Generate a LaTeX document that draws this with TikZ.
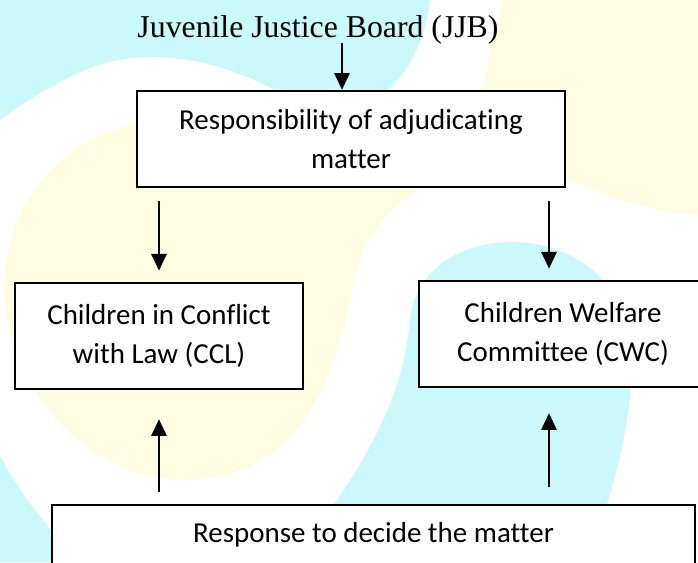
\documentclass[tikz,border=0pt]{standalone}
\usepackage{fontspec}
\setmainfont{Carlito}[Ligatures=NoCommon]
\newfontfamily\titlefont{Liberation Serif}
\usepackage{xcolor}
\usetikzlibrary{arrows.meta}
\definecolor{bgcyan}{RGB}{202,248,251}
\definecolor{bgyellow}{RGB}{255,253,225}

\tikzset{
    box/.style={draw, line width=1.6pt, fill=white, align=center, inner sep=0pt,
        font=\fontsize{20.6}{27.5}\selectfont},
    arr/.style={line width=1.7pt, -{Triangle[length=0.42cm,width=0.38cm]}}
}

\begin{document}
\begin{tikzpicture}[x=0.025cm, y=-0.025cm]
    \useasboundingbox (0,0) rectangle (698,562);
    \clip (0,0) rectangle (698,562);
    % background swirls
    \fill [bgcyan] (0,0) -- (430,0) .. controls (425,45) and (405,80) .. (375,100)
        -- (290,100) .. controls (230,60) and (150,45) .. (90,68)
        .. controls (50,85) and (20,105) .. (0,120) -- cycle;
    \fill [bgyellow] (423,186) .. controls (380,215) and (362,240) .. (352,290)
        .. controls (335,380) and (300,478) .. (187,480)
        .. controls (80,480) and (5,380) .. (4,290)
        .. controls (5,200) and (60,140) .. (140,122) -- cycle;
    \fill [bgcyan] (330,510) .. controls (380,440) and (405,380) .. (410,320)
        .. controls (415,270) and (460,242) .. (512,242)
        .. controls (580,242) and (632,290) .. (632,358)
        .. controls (632,420) and (615,480) .. (605,510) -- cycle;
    \fill [bgcyan] (0,455) .. controls (15,485) and (30,505) .. (55,535) -- (55,562) -- (0,562) -- cycle;
    \fill [bgyellow] (503,0) -- (698,0) -- (698,215) .. controls (650,212) and (600,195) .. (560,175)
        -- (480,100) .. controls (488,60) and (497,30) .. (503,0) -- cycle;

    % title and boxes
    \node (jjb) [anchor=base, font=\titlefont\fontsize{22.6}{26}\selectfont] at (318,37) {Juvenile Justice Board (JJB)};
    \node (resp) [box, minimum width=10.7cm, minimum height=2.4cm] at (351,139) {Responsibility of adjudicating\\matter};
    \node (ccl) [box, minimum width=7.2cm, minimum height=2.65cm] at (159,336) {Children in Conflict\\with Law (CCL)};
    \node (cwc) [box, minimum width=7.2cm, minimum height=2.65cm] at (563,334) {Children Welfare\\Committee (CWC)};
    \node (decide) [box, minimum width=16.075cm, minimum height=1.5cm] at (373.5,535) {Response to decide the matter};

    % arrows
    \draw [arr] (342,43) -- (resp.north -| 342,0);
    \draw [arr, shorten <=0.33cm, shorten >=0.28cm] (resp.south -| ccl.north) -- (ccl.north);
    \draw [arr, shorten <=0.33cm, shorten >=0.28cm] ([xshift=-0.35cm]resp.south -| cwc.north) -- ([xshift=-0.35cm]cwc.north);
    \draw [arr, shorten <=0.3cm, shorten >=0.725cm] (decide.north -| ccl.south) -- (ccl.south);
    \draw [arr, shorten <=0.425cm, shorten >=0.625cm] ([xshift=-0.35cm]decide.north -| cwc.south) -- ([xshift=-0.35cm]cwc.south);
\end{tikzpicture}
\end{document}
